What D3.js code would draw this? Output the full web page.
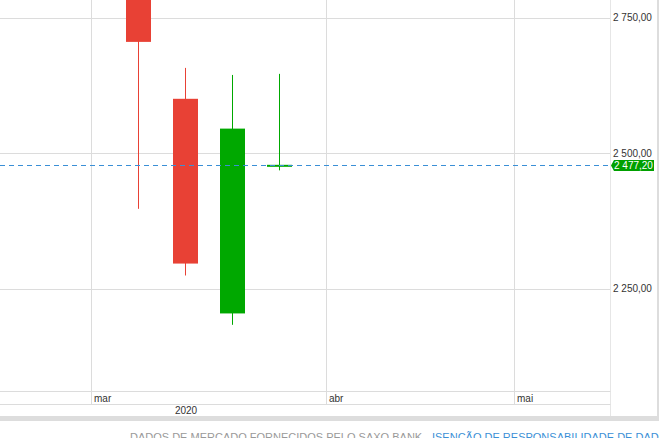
<!DOCTYPE html>
<html>
<head>
<meta charset="utf-8">
<script src="https://cdn.jsdelivr.net/npm/d3@7/dist/d3.min.js"></script>
<style>
  html, body { margin: 0; padding: 0; background: #fff; overflow: hidden; }
  svg { display: block; font-family: "Liberation Sans", Arial, sans-serif; }
</style>
</head>
<body>
<svg id="chart" width="659" height="438"></svg>
<script>
// ---- data (weekly candles) ----
const weeks  = ["2020-03-09", "2020-03-16", "2020-03-23", "2020-03-30"];
const opens  = [2860, 2600, 2204, 2475.5];
const highs  = [2880, 2657, 2644, 2646];
const lows   = [2397, 2274, 2183, 2468];
const closes = [2705, 2296, 2545, 2477.2];
const lastPrice = 2477.2;
const priceTicks = [2250, 2500, 2750];
const monthTicks = ["2020-03-02", "2020-04-06", "2020-05-04"];
const monthLabels = ["mar", "abr", "mai"];
const yearLabel = "2020";
const footerGray = "DADOS DE MERCADO FORNECIDOS PELO SAXO BANK - ";
const footerLink = "ISENÇÃO DE RESPONSABILIDADE DE DADOS";

const parse = d3.utcParse("%Y-%m-%d");
const candles = weeks.map((w, i) => ({ date: parse(w), o: opens[i], h: highs[i], l: lows[i], c: closes[i] }));

const svg = d3.select("#chart");
const W = 659, H = 438;
const plotRight = 610.5;
const plotBottom = 391;

const x = d3.scaleUtc()
  .domain([parse("2020-03-02"), parse("2020-05-04")])
  .range([91.5, 514.5]);
const y = d3.scaleLinear()
  .domain([2250, 2750])
  .range([288.5, 17.5]);

const fmt = v => d3.format(",.2f")(v).replace(/,/g, " ").replace(".", ",");

const RED = "#e84135", GREEN = "#00a800", GRID = "#dcdcdc";

// plot clip
svg.append("defs").append("clipPath").attr("id", "plotclip")
  .append("rect").attr("x", 0).attr("y", 0).attr("width", plotRight).attr("height", plotBottom);

// horizontal grid
svg.append("g").selectAll("line").data(priceTicks).join("line")
  .attr("x1", 0).attr("x2", plotRight)
  .attr("y1", d => Math.round(y(d)) + 0.5).attr("y2", d => Math.round(y(d)) + 0.5)
  .attr("stroke", GRID).attr("stroke-width", 1);

// vertical month grid (through label row)
svg.append("g").selectAll("line").data(monthTicks).join("line")
  .attr("x1", d => Math.round(x(parse(d))) - 0.5).attr("x2", d => Math.round(x(parse(d))) - 0.5)
  .attr("y1", 0).attr("y2", 404)
  .attr("stroke", GRID).attr("stroke-width", 1);

// right divider
svg.append("line").attr("x1", plotRight).attr("x2", plotRight).attr("y1", 0).attr("y2", 416)
  .attr("stroke", "#e6e6e6");

// axis rows
[391.5, 404.5].forEach(yy => {
  svg.append("line").attr("x1", 0).attr("x2", plotRight).attr("y1", yy).attr("y2", yy)
    .attr("stroke", GRID);
});

// bottom gray band and right gray bar
svg.append("rect").attr("x", 0).attr("y", 416).attr("width", W).attr("height", 5).attr("fill", "#dddddd");
svg.append("rect").attr("x", 657).attr("y", 0).attr("width", 2).attr("height", 421).attr("fill", "#dddddd");

// month labels
svg.append("g").selectAll("text").data(monthTicks).join("text")
  .attr("x", d => Math.round(x(parse(d))) + 2)
  .attr("y", 401.5)
  .attr("font-size", 10).attr("fill", "#333")
  .text((d, i) => monthLabels[i]);

svg.append("text").attr("x", 186).attr("y", 414).attr("text-anchor", "middle")
  .attr("font-size", 10).attr("fill", "#333").text(yearLabel);

// price tick labels
svg.append("g").selectAll("text").data(priceTicks).join("text")
  .attr("x", 613).attr("y", d => y(d) + 1)
  .attr("dominant-baseline", "middle")
  .attr("font-size", 10).attr("fill", "#333")
  .text(fmt);

// candles
const bw = 25;
const cg = svg.append("g").attr("clip-path", "url(#plotclip)");
const cs = cg.selectAll("g").data(candles).join("g");
cs.append("line")
  .attr("x1", d => Math.round(x(d.date)) - 0.5)
  .attr("x2", d => Math.round(x(d.date)) - 0.5)
  .attr("y1", d => y(d.h)).attr("y2", d => y(d.l))
  .attr("stroke", d => d.c >= d.o ? GREEN : RED).attr("stroke-width", 1);
cs.append("rect")
  .attr("x", d => Math.round(x(d.date)) - 13)
  .attr("width", bw)
  .attr("y", d => {
    const t = y(Math.max(d.o, d.c)), b = y(Math.min(d.o, d.c));
    return b - t < 2 ? (t + b) / 2 - 1 : t;
  })
  .attr("height", d => Math.max(2, y(Math.min(d.o, d.c)) - y(Math.max(d.o, d.c))))
  .attr("fill", d => d.c >= d.o ? GREEN : RED);

// last price line
const ly = Math.round(y(lastPrice)) + 0.5;
svg.append("line").attr("x1", 0).attr("x2", plotRight).attr("y1", ly).attr("y2", ly)
  .attr("stroke", "#3a8fd6").attr("stroke-width", 1).attr("stroke-dasharray", "5,4");

// last price label
const lb = svg.append("g");
lb.append("path")
  .attr("d", `M611,${ly} L614,${ly - 5.5} L654,${ly - 5.5} L654,${ly + 5.5} L614,${ly + 5.5} Z`)
  .attr("fill", "#00a000");
lb.append("text").attr("x", 614).attr("y", ly + 0.5)
  .attr("dominant-baseline", "middle")
  .attr("font-size", 10).attr("fill", "#fff")
  .text(fmt(lastPrice));

// footer
const ft = svg.append("text").attr("x", 130).attr("y", 441).attr("font-size", 11);
ft.append("tspan").attr("fill", "#999").text(footerGray);
ft.append("tspan").attr("fill", "#3a8fd6").text(footerLink);
</script>
</body>
</html>
